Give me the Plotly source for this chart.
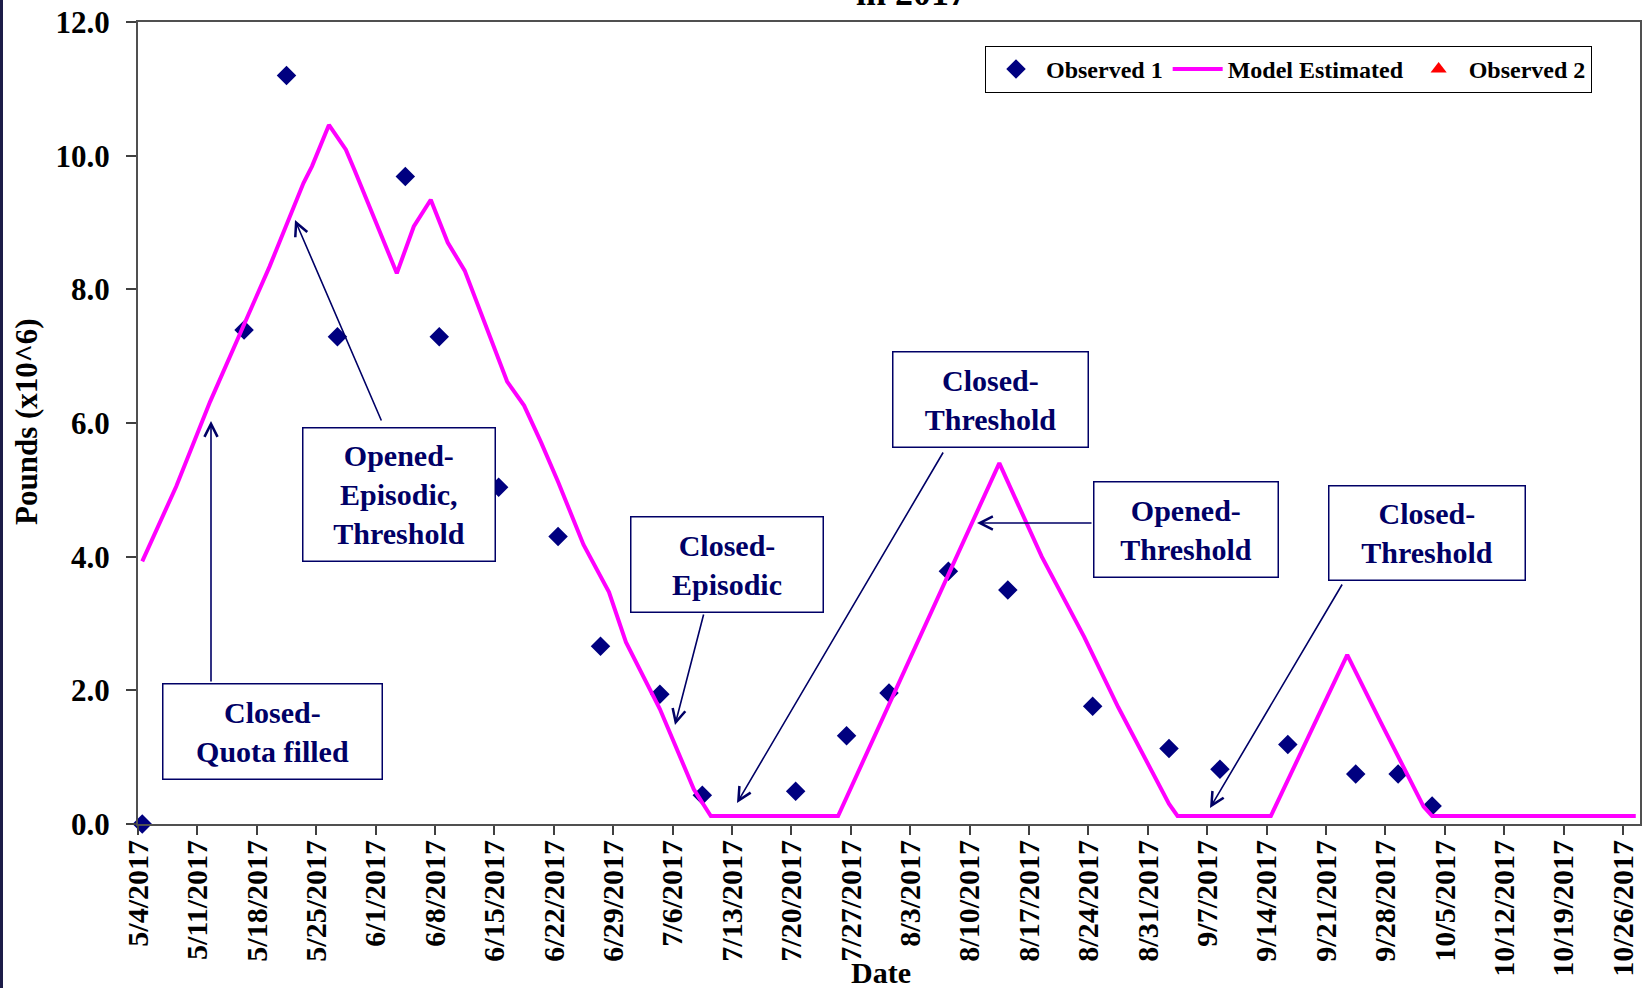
import pandas as pd
import plotly.graph_objects as go

# canvas and plot-area margins, px
W, H = 1648, 988
L, R, T, B = 138, 8, 22, 164

FONT = "Liberation Serif"
NAVY = "#000066"

# Observed 1 (diamonds), pounds x10^6
obs1_dates = ["2017-05-04", "2017-05-16", "2017-05-21", "2017-05-27", "2017-06-04",
              "2017-06-08", "2017-06-15", "2017-06-22", "2017-06-27", "2017-07-04",
              "2017-07-09", "2017-07-20", "2017-07-26", "2017-07-31", "2017-08-07",
              "2017-08-14", "2017-08-24", "2017-09-02", "2017-09-08", "2017-09-16",
              "2017-09-24", "2017-09-29", "2017-10-03"]
obs1_lbs = [0.0, 7.39, 11.2, 7.29, 9.69, 7.29, 5.04, 4.30, 2.66, 1.94, 0.43, 0.49,
            1.32, 1.96, 3.78, 3.50, 1.76, 1.13, 0.82, 1.19, 0.75, 0.75, 0.27]

# Model estimated (magenta line)
model_dates = ["2017-05-04", "2017-05-08", "2017-05-12", "2017-05-14", "2017-05-17",
               "2017-05-19", "2017-05-23", "2017-05-24", "2017-05-26", "2017-05-28",
               "2017-05-29", "2017-06-03", "2017-06-05", "2017-06-07", "2017-06-09",
               "2017-06-11", "2017-06-16", "2017-06-18", "2017-06-20", "2017-06-22",
               "2017-06-25", "2017-06-28", "2017-06-30", "2017-07-04", "2017-07-08",
               "2017-07-10", "2017-07-25", "2017-08-13", "2017-08-18", "2017-08-23",
               "2017-08-27", "2017-09-02", "2017-09-03", "2017-09-14", "2017-09-19",
               "2017-09-23", "2017-09-27", "2017-10-02", "2017-10-03", "2017-10-27"]
model_lbs = [3.93, 5.05, 6.32, 6.89, 7.74, 8.34, 9.59, 9.84, 10.46, 10.09,
             9.79, 8.24, 8.94, 9.34, 8.70, 8.28, 6.62, 6.26, 5.71, 5.12,
             4.18, 3.47, 2.72, 1.72, 0.52, 0.12, 0.12, 5.40, 4.00, 2.80,
             1.75, 0.30, 0.12, 0.12, 1.46, 2.53, 1.51, 0.26, 0.12, 0.12]

# Observed 2 has no points in this year, only the legend entry
obs2_dates = []
obs2_lbs = []

tick_labels = ["5/4/2017", "5/11/2017", "5/18/2017", "5/25/2017", "6/1/2017",
               "6/8/2017", "6/15/2017", "6/22/2017", "6/29/2017", "7/6/2017",
               "7/13/2017", "7/20/2017", "7/27/2017", "8/3/2017", "8/10/2017",
               "8/17/2017", "8/24/2017", "8/31/2017", "9/7/2017", "9/14/2017",
               "9/21/2017", "9/28/2017", "10/5/2017", "10/12/2017", "10/19/2017",
               "10/26/2017"]


def to_x(dates):
    # excel style date axis: each point sits in the middle of its day
    return pd.to_datetime(dates) + pd.Timedelta(hours=12)


def paper(px, py):
    # canvas pixel -> paper coords
    return (px - L) / (W - L - R), (H - B - py) / (H - T - B)


fig = go.Figure()
fig.add_trace(go.Scatter(x=to_x(obs1_dates), y=obs1_lbs, name="Observed 1", mode="markers",
                         marker=dict(symbol="diamond", size=15, color="#000080"),
                         cliponaxis=False))
fig.add_trace(go.Scatter(x=to_x(model_dates), y=model_lbs, name="Model Estimated", mode="lines",
                         line=dict(color="#FF00FF", width=4)))
# empty series still needs a legend entry, so give it a single gap
fig.add_trace(go.Scatter(x=list(to_x(obs2_dates)) or [None], y=obs2_lbs or [None],
                         name="Observed 2", mode="markers",
                         marker=dict(symbol="triangle-up", size=14, color="#FF0000")))

# text boxes: text, centre (px), box size (px)
boxes = [
    ("Closed-<br>Quota filled", (272.5, 731.5), (221, 97)),
    ("Opened-<br>Episodic,<br>Threshold", (399, 494.5), (194, 135)),
    ("Closed-<br>Episodic", (727, 564.5), (194, 97)),
    ("Closed-<br>Threshold", (990.5, 399.5), (197, 97)),
    ("Opened-<br>Threshold", (1186, 529.5), (186, 97)),
    ("Closed-<br>Threshold", (1427, 533), (198, 96)),
]
# arrows: tail (px) -> head (px)
arrows = [
    ((211, 683), (211, 421)),
    ((382, 422), (295, 220)),
    ((704, 613), (675, 725)),
    ((944, 451), (737, 803)),
    ((1093, 523), (977, 523)),
    ((1343, 583), (1210, 808)),
]

annotations = []
for text, (cx, cy), (bw, bh) in boxes:
    x, y = paper(cx, cy)
    annotations.append(dict(text=text, x=x, y=y, xref="paper", yref="paper",
                            xanchor="center", yanchor="middle", showarrow=False,
                            width=bw - 3, height=bh - 3, borderpad=0, borderwidth=1.5,
                            bordercolor=NAVY, bgcolor="white",
                            font=dict(family=FONT, size=30, color=NAVY, weight="bold")))
for (tx, ty), (hx, hy) in arrows:
    ax, ay = paper(tx, ty)
    x, y = paper(hx, hy)
    annotations.append(dict(text="", x=x, y=y, ax=ax, ay=ay, xref="x domain", yref="y domain",
                            axref="x domain", ayref="y domain", showarrow=True, arrowhead=5,
                            arrowsize=1.6, arrowwidth=1.6, arrowcolor=NAVY))

# cut off chart title, axis titles
x, y = paper(911, 15)
annotations.append(dict(text="in 2017", x=x, y=y, xref="paper", yref="paper",
                        xanchor="center", yanchor="bottom", showarrow=False,
                        font=dict(family=FONT, size=36, color="black", weight="bold")))
x, y = paper(881, 972)
annotations.append(dict(text="Date", x=x, y=y, xref="paper", yref="paper",
                        xanchor="center", yanchor="middle", showarrow=False,
                        font=dict(family=FONT, size=30, color="black", weight="bold")))
x, y = paper(26, 422)
annotations.append(dict(text="Pounds (x10^6)", x=x, y=y, xref="paper", yref="paper",
                        xanchor="center", yanchor="middle", showarrow=False, textangle=-90,
                        font=dict(family=FONT, size=31, color="black", weight="bold")))

# dark slide edge on the left
x0, y0 = paper(0, H)
x1, y1 = paper(3, 0)
shapes = [dict(type="rect", xref="paper", yref="paper", x0=x0, x1=x1, y0=y0, y1=y1,
               fillcolor="#1c1c48", line=dict(width=0), layer="above")]

lx, ly = paper(985, 46)
fig.update_layout(
    width=W, height=H,
    margin=dict(l=L, r=R, t=T, b=B, autoexpand=False),
    plot_bgcolor="white", paper_bgcolor="white",
    font=dict(family=FONT, color="black"),
    annotations=annotations,
    shapes=shapes,
    legend=dict(orientation="h", x=lx, y=ly, xanchor="left", yanchor="top",
                itemwidth=50,
                bgcolor="white", bordercolor="black", borderwidth=1,
                font=dict(family=FONT, size=24, color="black", weight="bold")),
)

tick_dates = pd.to_datetime(tick_labels, format="%m/%d/%Y")
fig.update_xaxes(type="date", range=["2017-05-04", "2017-10-28"], automargin=False,
                 tickvals=tick_dates, ticktext=tick_labels, tickangle=-90,
                 ticks="outside", ticklen=9, tickwidth=2, tickcolor="#404040",
                 ticklabelstandoff=-7,
                 tickfont=dict(family=FONT, size=30, color="black", weight="bold"),
                 showgrid=False, showline=True, linecolor="#505050", linewidth=2, mirror=True,
                 zeroline=False)
fig.update_yaxes(range=[0, 12], dtick=2, tickformat=".1f", automargin=False,
                 ticks="outside", ticklen=10, tickwidth=2, tickcolor="#404040",
                 ticklabelstandoff=10,
                 tickfont=dict(family=FONT, size=31, color="black", weight="bold"),
                 showgrid=False, showline=True, linecolor="#505050", linewidth=2, mirror=True,
                 zeroline=False)

fig.write_html("out.html", config={"displayModeBar": False},
               post_script="document.body.style.margin='0';")
